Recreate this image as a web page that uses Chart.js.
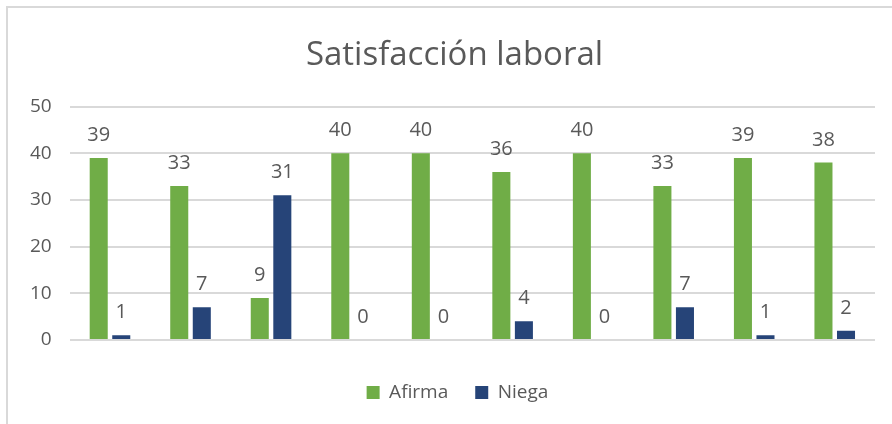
<!DOCTYPE html>
<html>
<head>
<meta charset="utf-8">
<script src="https://cdn.jsdelivr.net/npm/chart.js@4.4.1/dist/chart.umd.min.js"></script>
<style>
    html, body { margin: 0; padding: 0; background: #fff; }
    #wrap { position: relative; width: 892px; height: 424px; overflow: hidden; }
    #frame { position: absolute; left: 6px; top: 6px; width: 900px; height: 430px;
             border-left: 2px solid #d9d9d9; border-top: 2px solid #d9d9d9; }
    canvas { position: absolute; left: 0; top: 0; }
</style>
</head>
<body>
<div id="wrap">
    <div id="frame"></div>
    <canvas id="chart" width="892" height="424"></canvas>
</div>
<script>
    // Chart data
    const categories = ['', '', '', '', '', '', '', '', '', ''];
    const afirma = [39, 33, 9, 40, 40, 36, 40, 33, 39, 38];
    const niega = [1, 7, 31, 0, 0, 4, 0, 7, 1, 2];
    const yTicks = [0, 10, 20, 30, 40, 50];

    const textColor = '#595959';

    // Draw value labels above each bar
    const valueLabels = {
        id: 'valueLabels',
        afterDatasetsDraw(chart) {
            const ctx = chart.ctx;
            ctx.save();
            ctx.fillStyle = textColor;
            ctx.font = '20px "Open Sans"';
            ctx.textAlign = 'center';
            ctx.textBaseline = 'alphabetic';
            chart.data.datasets.forEach(function(ds, i) {
                chart.getDatasetMeta(i).data.forEach(function(bar, j) {
                    ctx.fillText(String(ds.data[j]), bar.x, bar.y - 17);
                });
            });
            ctx.restore();
        }
    };

    // Title and legend in the original sit a bit right of center
    const blockShift = {
        id: 'blockShift',
        afterLayout(chart) {
            chart.legend.left += 14;
            chart.legend.right += 14;
            chart.titleBlock.left += 11;
            chart.titleBlock.right += 11;
        }
    };

    new Chart(document.getElementById('chart'), {
        type: 'bar',
        data: {
            labels: categories,
            datasets: [
                { label: 'Afirma', data: afirma, backgroundColor: '#70AD47' },
                { label: 'Niega', data: niega, backgroundColor: '#264478' }
            ]
        },
        options: {
            responsive: false,
            animation: false,
            events: [],
            categoryPercentage: 0.56,
            barPercentage: 0.8,
            layout: { padding: { left: 12, right: 17, top: 0, bottom: 12 } },
            plugins: {
                title: {
                    display: true,
                    text: 'Satisfacción laboral',
                    color: textColor,
                    font: { family: 'Open Sans', size: 33, weight: 'normal' },
                    padding: { top: 36, bottom: 31 }
                },
                legend: {
                    position: 'bottom',
                    labels: {
                        color: textColor,
                        font: { family: 'Open Sans', size: 19 },
                        boxWidth: 13,
                        boxHeight: 13,
                        padding: 27
                    }
                },
                tooltip: { enabled: false }
            },
            scales: {
                x: {
                    grid: { display: false },
                    border: { display: false },
                    ticks: { display: false },
                    afterFit: function(scale) { scale.height = 16; }
                },
                y: {
                    min: 0,
                    max: 50,
                    afterBuildTicks: function(scale) {
                        scale.ticks = yTicks.map(function(v) { return { value: v }; });
                    },
                    grid: { color: '#d9d9d9', lineWidth: 2, drawTicks: false },
                    border: { display: false },
                    ticks: {
                        color: textColor,
                        font: { family: 'Open Sans', size: 19 },
                        padding: 18
                    }
                }
            }
        },
        plugins: [valueLabels, blockShift]
    });
</script>
</body>
</html>
